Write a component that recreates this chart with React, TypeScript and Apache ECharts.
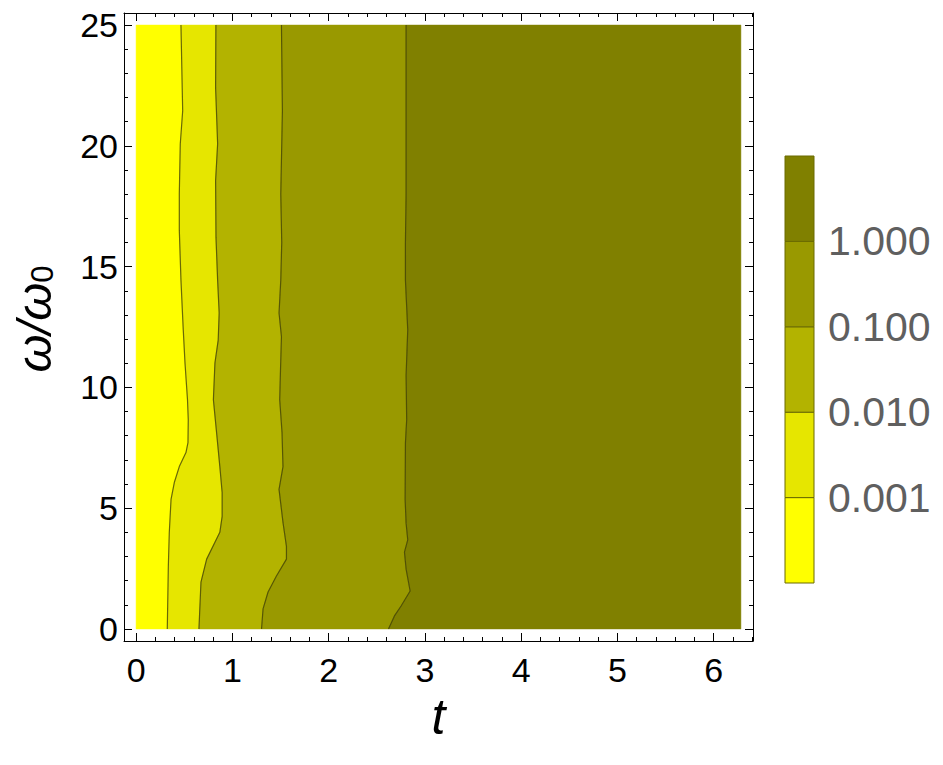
import React, { useEffect, useRef } from "react";
import * as echarts from "echarts";

// ---- data ----
const tRange = [0, 2 * Math.PI];
const omegaRange = [0, 25];

// contour boundaries as [t, ω/ω0], from bottom to top
const contour1 = [
  [0.324, 0], [0.335, 2.6], [0.345, 4.0], [0.363, 5.36], [0.397, 6.06], [0.449, 6.72],
  [0.518, 7.3], [0.539, 7.71], [0.542, 8.66], [0.534, 9.49], [0.508, 11.01], [0.49, 12.38],
  [0.466, 14.44], [0.449, 16.5], [0.449, 18.03], [0.459, 20.09], [0.484, 21.45], [0.466, 25],
];
const contour2 = [
  [0.653, 0], [0.674, 1.94], [0.733, 2.89], [0.819, 3.59], [0.87, 4.0], [0.894, 4.66],
  [0.894, 5.65], [0.87, 6.72], [0.836, 8.13], [0.803, 9.49], [0.819, 11.01], [0.853, 11.96],
  [0.863, 13.08], [0.847, 14.44], [0.83, 16.2], [0.826, 18.56], [0.847, 20.09], [0.826, 22.4],
  [0.829, 25],
];
const contour3 = [
  [1.303, 0], [1.319, 0.83], [1.371, 1.53], [1.458, 2.19], [1.562, 2.89], [1.562, 3.42],
  [1.526, 4.41], [1.485, 5.78], [1.526, 6.72], [1.516, 8.13], [1.492, 9.49], [1.5, 10.7],
  [1.51, 12.1], [1.485, 13.08], [1.503, 14.44], [1.513, 16], [1.503, 18], [1.52, 21.45],
  [1.51, 25],
];
const contour4 = [
  [2.622, 0], [2.684, 0.54], [2.753, 0.95], [2.847, 1.57], [2.805, 2.48], [2.788, 3.18],
  [2.822, 3.69], [2.805, 4.38], [2.795, 5.36], [2.798, 7.7], [2.811, 8.66], [2.805, 10.5],
  [2.822, 12.38], [2.798, 14.44], [2.798, 16], [2.805, 18], [2.805, 21.45], [2.805, 25],
];
const contours = [contour1, contour2, contour3, contour4];

const bandColors = ["#FFFF00", "#E6E600", "#B3B300", "#999900", "#808000"];
const colorbarLabels = ["0.001", "0.010", "0.100", "1.000"];

const FONT = "'Liberation Sans', Arial, sans-serif";

function buildOption() {
  const xPad = (tRange[1] - tRange[0]) * 0.02;
  const yPad = (omegaRange[1] - omegaRange[0]) * 0.02;
  const xMin = tRange[0] - xPad;
  const xMax = tRange[1] + xPad;
  const yMin = omegaRange[0] - yPad;
  const yMax = omegaRange[1] + yPad;

  const isMult = (v: number, m: number) => Math.abs(v / m - Math.round(v / m)) < 1e-6;

  const frameX = (pos: "bottom" | "top", show: boolean) => ({
    type: "value",
    gridIndex: 0,
    position: pos,
    min: xMin,
    max: xMax,
    splitNumber: 6,
    axisLine: { show: true, onZero: false, lineStyle: { color: "#000", width: 1 } },
    axisTick: { show: true, inside: true, length: 8, lineStyle: { color: "#000", width: 1 } },
    minorTick: { show: true, splitNumber: 5, length: 4, lineStyle: { color: "#000", width: 1 } },
    splitLine: { show: false },
    axisLabel: {
      show,
      fontSize: 34,
      color: "#000",
      fontFamily: FONT,
      margin: 12,
      formatter: (v: number) => (isMult(v, 1) ? String(Math.round(v)) : ""),
    },
    name: show ? "t" : "",
    nameLocation: "middle",
    nameGap: 46,
    nameTextStyle: { fontSize: 50, fontStyle: "italic", color: "#000", fontFamily: FONT },
  });

  const frameY = (pos: "left" | "right", show: boolean) => ({
    type: "value",
    gridIndex: 0,
    position: pos,
    min: yMin,
    max: yMax,
    splitNumber: 5,
    axisLine: { show: true, onZero: false, lineStyle: { color: "#000", width: 1 } },
    axisTick: { show: true, inside: true, length: 8, lineStyle: { color: "#000", width: 1 } },
    minorTick: { show: true, splitNumber: 5, length: 4, lineStyle: { color: "#000", width: 1 } },
    splitLine: { show: false },
    axisLabel: {
      show,
      fontSize: 34,
      color: "#000",
      fontFamily: FONT,
      margin: 6,
      formatter: (v: number) => (isMult(v, 5) ? String(Math.round(v)) : ""),
    },
    name: show ? "{w|ω/ω}{s|0}" : "",
    nameLocation: "middle",
    nameGap: 66,
    nameRotate: 90,
    nameTextStyle: {
      color: "#000",
      fontFamily: FONT,
      padding: [0, 0, 0, 16],
      rich: {
        w: { fontSize: 49, fontStyle: "italic", fontFamily: FONT, color: "#000", lineHeight: 49, verticalAlign: "top" },
        s: { fontSize: 31, fontFamily: FONT, color: "#000", lineHeight: 31, padding: [24, 0, 0, 0], verticalAlign: "bottom" },
      },
    },
  });

  const bandSeries = {
    type: "custom",
    xAxisIndex: 0,
    yAxisIndex: 0,
    silent: true,
    z: 1,
    data: bandColors.map((_, i) => [i]),
    renderItem: (params: any, api: any) => {
      const i = api.value(0) as number;
      const left =
        i === 0
          ? [[tRange[0], omegaRange[0]], [tRange[0], omegaRange[1]]]
          : contours[i - 1];
      const right =
        i === contours.length
          ? [[tRange[1], omegaRange[0]], [tRange[1], omegaRange[1]]]
          : contours[i];
      const pts = [...left, ...right.slice().reverse()].map((p) => api.coord(p));
      return {
        type: "polygon",
        shape: { points: pts },
        style: { fill: bandColors[i], stroke: bandColors[i], lineWidth: 0.5 },
      };
    },
  };

  const lineSeries = contours.map((c) => ({
    type: "line",
    xAxisIndex: 0,
    yAxisIndex: 0,
    data: c,
    showSymbol: false,
    symbol: "none",
    silent: true,
    z: 3,
    lineStyle: { color: "rgba(60,60,0,0.75)", width: 1.2 },
  }));

  const colorbarSeries = {
    type: "custom",
    xAxisIndex: 2,
    yAxisIndex: 2,
    silent: true,
    data: bandColors.map((_, i) => [i, i + 1]),
    renderItem: (params: any, api: any) => {
      const lo = api.value(0);
      const hi = api.value(1);
      const p0 = api.coord([0, lo]);
      const p1 = api.coord([1, hi]);
      return {
        type: "rect",
        shape: { x: p0[0], y: p1[1], width: p1[0] - p0[0], height: p0[1] - p1[1] },
        style: { fill: bandColors[params.dataIndex], stroke: "#6b6b00", lineWidth: 1 },
      };
    },
  };

  return {
    animation: false,
    backgroundColor: "#fff",
    grid: [
      { left: 124, top: 13, width: 629, height: 628, outerBoundsMode: "none", containLabel: false },
      { left: 785, top: 156, width: 29, height: 427, outerBoundsMode: "none", containLabel: false },
    ],
    xAxis: [
      frameX("bottom", true),
      frameX("top", false),
      { type: "value", gridIndex: 1, min: 0, max: 1, show: false },
    ],
    yAxis: [
      frameY("left", true),
      frameY("right", false),
      {
        type: "value",
        gridIndex: 1,
        position: "right",
        min: 0,
        max: bandColors.length,
        interval: 1,
        axisLine: { show: false },
        splitLine: { show: false },
        axisTick: {
          show: true,
          length: 8,
          customValues: [1, 2, 3, 4],
          lineStyle: { color: "#555", width: 1 },
        },
        axisLabel: {
          show: true,
          customValues: [1, 2, 3, 4],
          fontSize: 41,
          color: "#5f5f5f",
          fontFamily: FONT,
          margin: 14,
          formatter: (v: number) => colorbarLabels[Math.round(v) - 1] ?? "",
        },
      },
    ],
    series: [bandSeries, ...lineSeries, colorbarSeries],
  };
}

export default function App() {
  const ref = useRef<HTMLDivElement>(null);
  useEffect(() => {
    if (!ref.current) return;
    const chart = echarts.init(ref.current, null, { renderer: "svg" });
    chart.setOption(buildOption() as any);
    return () => chart.dispose();
  }, []);
  return (
    <div
      ref={ref}
      style={{ position: "absolute", left: 0, top: 0, width: 943, height: 765, background: "#fff" }}
    />
  );
}
